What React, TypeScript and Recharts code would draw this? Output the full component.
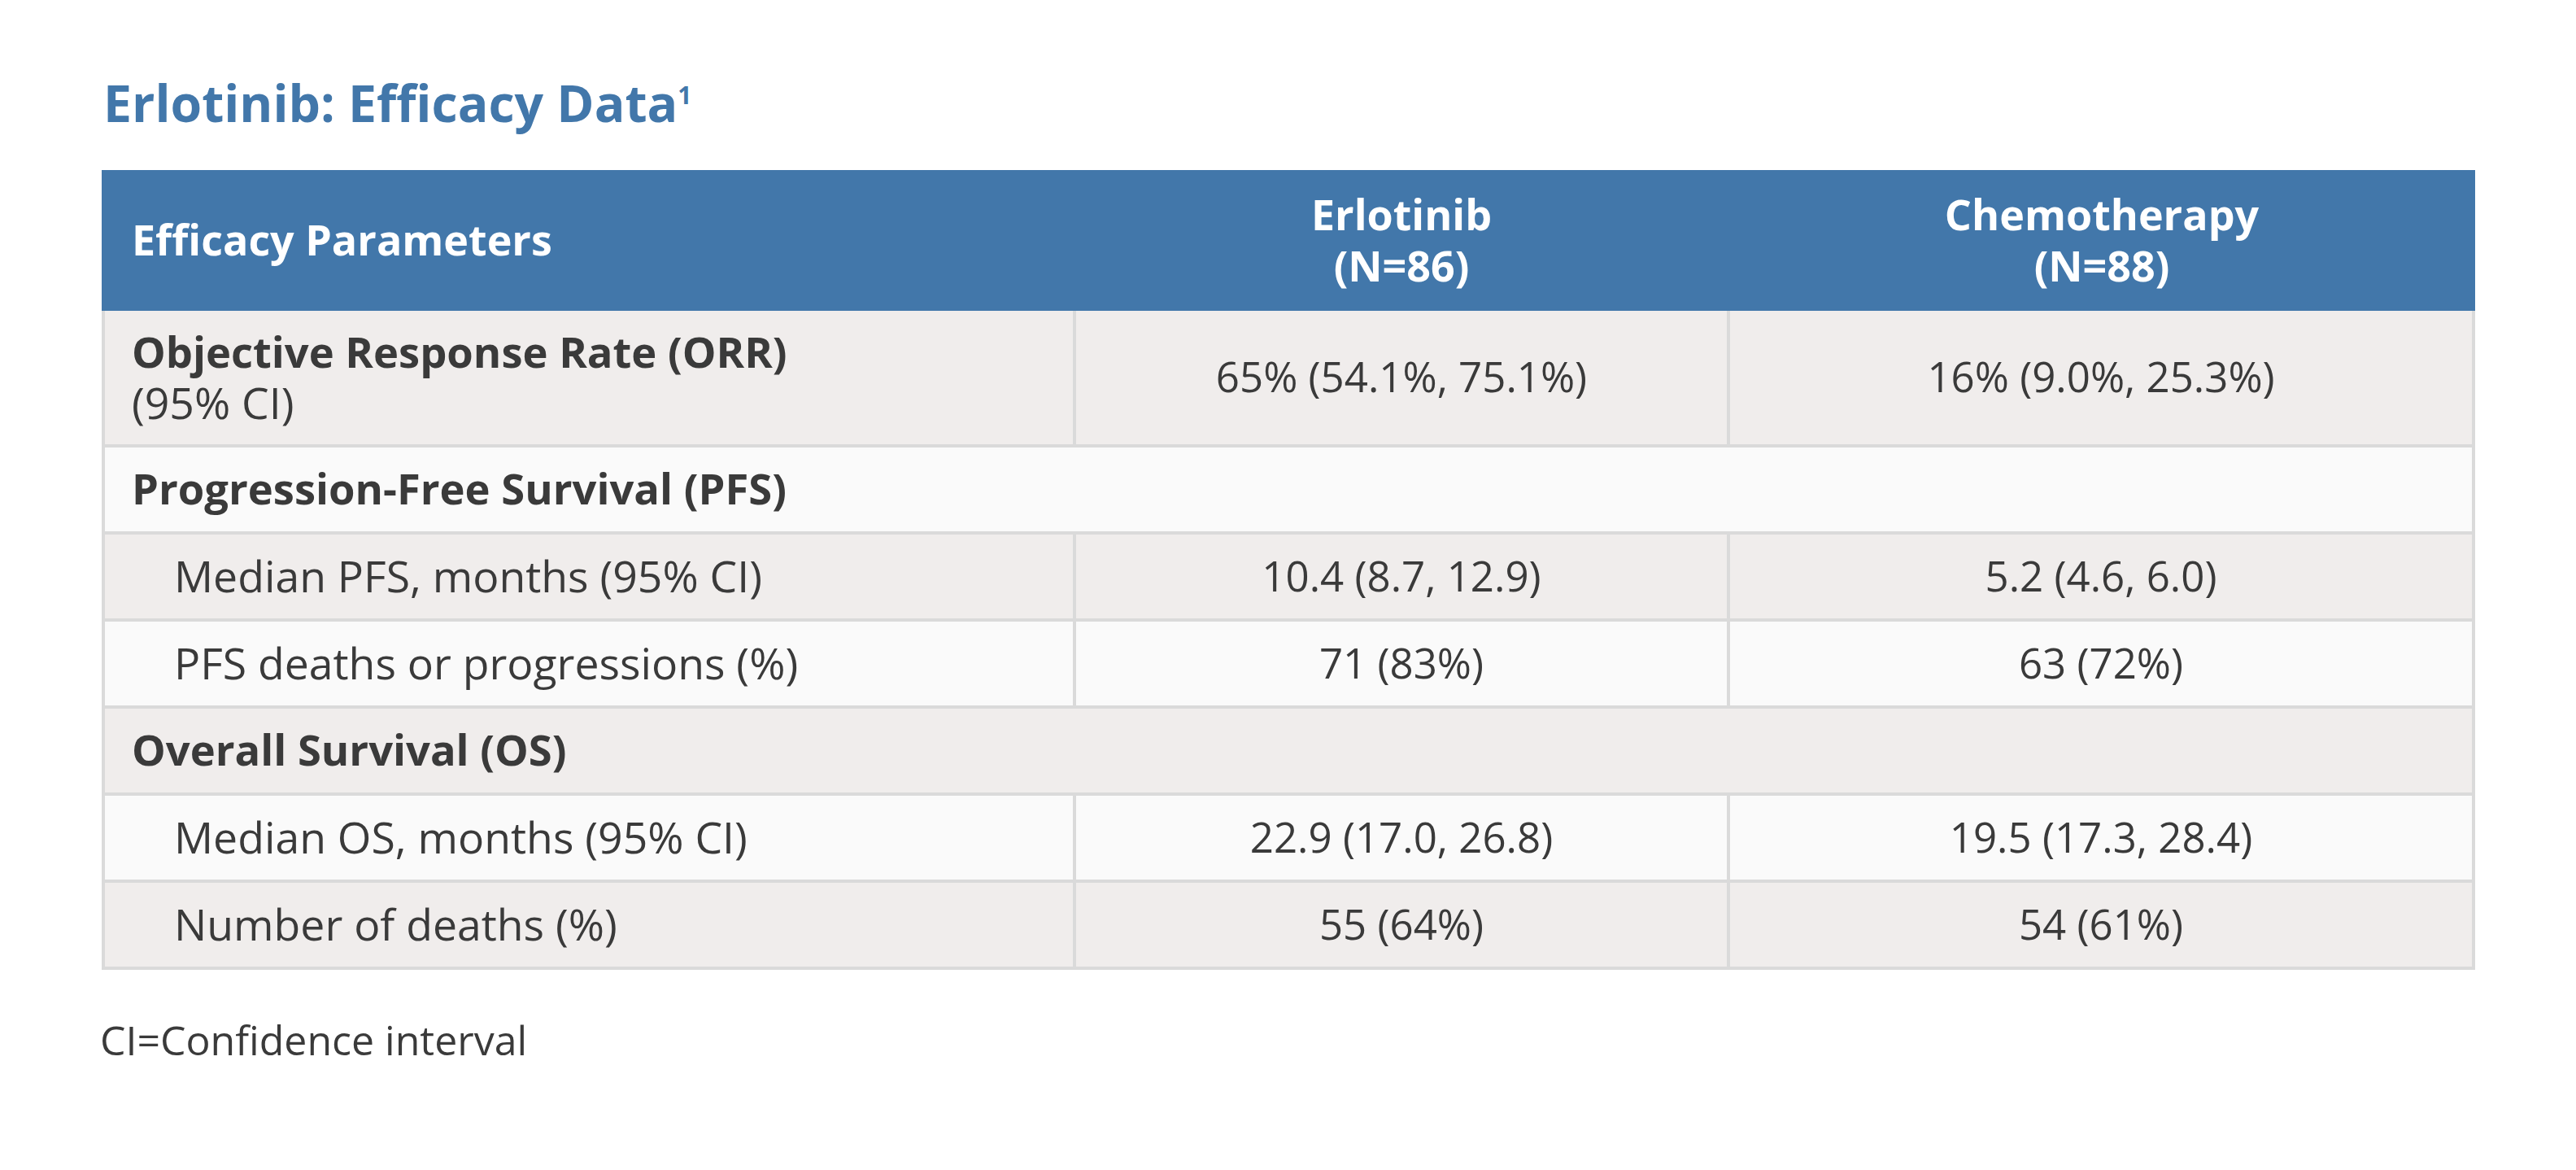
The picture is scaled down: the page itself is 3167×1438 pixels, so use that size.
import React from 'react';
import { ComposedChart, XAxis, YAxis, ReferenceArea } from 'recharts';

// ---------- content ----------
const titleText = 'Erlotinib: Efficacy Data';
const titleRef = '1';
const headerLabels = ['Efficacy Parameters', 'Erlotinib', 'Chemotherapy'];
const headerCounts = ['', '(N=86)', '(N=88)'];
const rowLabels = [
  'Objective Response Rate (ORR)',
  'Progression-Free Survival (PFS)',
  'Median PFS, months (95% CI)',
  'PFS deaths or progressions (%)',
  'Overall Survival (OS)',
  'Median OS, months (95% CI)',
  'Number of deaths (%)',
];
const rowNotes = ['(95% CI)', '', '', '', '', '', ''];
const rowKinds = ['main', 'section', 'sub', 'sub', 'section', 'sub', 'sub'];
const erlotinibValues = ['65% (54.1%, 75.1%)', '', '10.4 (8.7, 12.9)', '71 (83%)', '', '22.9 (17.0, 26.8)', '55 (64%)'];
const chemotherapyValues = ['16% (9.0%, 25.3%)', '', '5.2 (4.6, 6.0)', '63 (72%)', '', '19.5 (17.3, 28.4)', '54 (61%)'];
const footnoteText = 'CI=Confidence interval';

// ---------- layout / style ----------
const W = 3167;
const H = 1438;
const COL_EDGES = [125, 1321, 2125, 3043];
const ROW_EDGES = [209, 382, 548, 655, 762, 869, 976, 1083, 1190];
const BORDER = 4;
const FONT = '"Open Sans", "Noto Sans", sans-serif';
const BLUE = '#4277aa';
const TEXT = '#3a3a3a';
const GRAY_CELL = '#f0edec';
const LIGHT_CELL = '#fafafa';
const BORDER_COLOR = '#dadada';
const VALUE_SIZE = 51;
const LABEL_SIZE = 53.5;
const BOLD_SIZE = 52.5;
const HEADER_SIZE = 52;
const LINE_GAP = 63;

type Line = { text: string; weight: number; size?: number };

const CellText = (props: any) => {
  const { viewBox, lines, align, fontSize, color, padLeft } = props;
  if (!viewBox) return null;
  const x = viewBox.x;
  const y = Math.min(viewBox.y, viewBox.y + viewBox.height);
  const width = Math.abs(viewBox.width);
  const height = Math.abs(viewBox.height);
  const cy = y + height / 2;
  const n = lines.length;
  const base0 = cy - ((n - 1) * LINE_GAP) / 2 + 0.357 * fontSize;
  const tx = align === 'left' ? x + padLeft : x + width / 2;
  return (
    <text
      x={tx}
      y={base0}
      textAnchor={align === 'left' ? 'start' : 'middle'}
      fontFamily={FONT}
      fontSize={fontSize}
      fill={color}
    >
      {lines.map((l: Line, i: number) => (
        <tspan key={i} x={tx} y={base0 + i * LINE_GAP} fontWeight={l.weight} fontSize={l.size || fontSize}>
          {l.text}
        </tspan>
      ))}
    </text>
  );
};

const TitleText = (props: any) => {
  const { viewBox } = props;
  if (!viewBox) return null;
  const y = Math.min(viewBox.y, viewBox.y + viewBox.height);
  const height = Math.abs(viewBox.height);
  return (
    <text x={viewBox.x} y={y + height} fontFamily={FONT} fontSize={62.5} fontWeight={700} fill={BLUE}>
      {titleText}
      <tspan fontSize={30} dy={-22}>{titleRef}</tspan>
    </text>
  );
};

const FootText = (props: any) => {
  const { viewBox } = props;
  if (!viewBox) return null;
  const y = Math.min(viewBox.y, viewBox.y + viewBox.height);
  const height = Math.abs(viewBox.height);
  return (
    <text x={viewBox.x} y={y + height} fontFamily={FONT} fontSize={50} fill={TEXT}>
      {footnoteText}
    </text>
  );
};

const chartData = rowLabels.map((label, i) => ({
  label,
  erlotinib: erlotinibValues[i],
  chemotherapy: chemotherapyValues[i],
}));

export default function App() {
  const areas: React.ReactNode[] = [];
  const half = BORDER / 2;
  const tableLeft = COL_EDGES[0];
  const tableRight = COL_EDGES[COL_EDGES.length - 1];
  const bodyTop = ROW_EDGES[1];
  const bodyBottom = ROW_EDGES[ROW_EDGES.length - 1];

  // title
  areas.push(
    <ReferenceArea key="title" x1={127} x2={1400} y1={104} y2={150} fill="none" fillOpacity={0} stroke="none" ifOverflow="visible" label={<TitleText />} />
  );

  // header background
  areas.push(
    <ReferenceArea key="hdr" x1={tableLeft} x2={tableRight} y1={ROW_EDGES[0]} y2={ROW_EDGES[1]} fill={BLUE} fillOpacity={1} stroke="none" ifOverflow="visible" />
  );
  headerLabels.forEach((h, c) => {
    const lines: Line[] = [{ text: h, weight: 700 }];
    if (headerCounts[c]) lines.push({ text: headerCounts[c], weight: 700 });
    areas.push(
      <ReferenceArea
        key={'hc' + c}
        x1={COL_EDGES[c]}
        x2={COL_EDGES[c + 1]}
        y1={ROW_EDGES[0]}
        y2={ROW_EDGES[1]}
        fill="none"
        fillOpacity={0}
        stroke="none"
        ifOverflow="visible"
        label={<CellText lines={lines} align={c === 0 ? 'left' : 'center'} fontSize={HEADER_SIZE} color="#ffffff" padLeft={37} />}
      />
    );
  });

  // body border background
  areas.push(
    <ReferenceArea key="bodybg" x1={tableLeft} x2={tableRight} y1={bodyTop} y2={bodyBottom + half} fill={BORDER_COLOR} fillOpacity={1} stroke="none" ifOverflow="visible" />
  );

  rowLabels.forEach((label, r) => {
    const top = ROW_EDGES[r + 1];
    const bottom = ROW_EDGES[r + 2];
    const fill = r % 2 === 0 ? GRAY_CELL : LIGHT_CELL;
    const kind = rowKinds[r];
    const yTop = r === 0 ? top : top + half;
    const yBot = bottom - half;
    if (kind === 'section') {
      areas.push(
        <ReferenceArea
          key={'r' + r}
          x1={tableLeft + BORDER}
          x2={tableRight - BORDER}
          y1={yTop}
          y2={yBot}
          fill={fill}
          fillOpacity={1}
          stroke="none"
          ifOverflow="visible"
          label={<CellText lines={[{ text: label, weight: 700 }]} align="left" fontSize={BOLD_SIZE} color={TEXT} padLeft={37 - BORDER} />}
        />
      );
      return;
    }
    const labelLines: Line[] =
      kind === 'main'
        ? [{ text: label, weight: 700, size: BOLD_SIZE }, ...(rowNotes[r] ? [{ text: rowNotes[r], weight: 400, size: LABEL_SIZE }] : [])]
        : [{ text: label, weight: 400, size: LABEL_SIZE }];
    const cellsText = [labelLines, [{ text: erlotinibValues[r], weight: 400 }], [{ text: chemotherapyValues[r], weight: 400 }]];
    for (let c = 0; c < 3; c++) {
      const x1 = c === 0 ? tableLeft + BORDER : COL_EDGES[c] + half;
      const x2 = c === 2 ? tableRight - BORDER : COL_EDGES[c + 1] - half;
      const pad = kind === 'sub' ? 89 - BORDER : 37 - BORDER;
      areas.push(
        <ReferenceArea
          key={'r' + r + 'c' + c}
          x1={x1}
          x2={x2}
          y1={yTop}
          y2={yBot}
          fill={fill}
          fillOpacity={1}
          stroke="none"
          ifOverflow="visible"
          label={<CellText lines={cellsText[c]} align={c === 0 ? 'left' : 'center'} fontSize={c === 0 ? LABEL_SIZE : VALUE_SIZE} color={TEXT} padLeft={pad} />}
        />
      );
    }
  });

  // footnote
  areas.push(
    <ReferenceArea key="foot" x1={123} x2={1000} y1={1262} y2={1297} fill="none" fillOpacity={0} stroke="none" ifOverflow="visible" label={<FootText />} />
  );

  return (
    <div style={{ position: 'absolute', left: 0, top: 0, width: W, height: H, background: '#ffffff' }}>
      <ComposedChart width={W} height={H} data={chartData} margin={{ top: 0, right: 0, bottom: 0, left: 0 }}>
        <XAxis type="number" dataKey="label" domain={[0, W]} hide allowDataOverflow />
        <YAxis type="number" domain={[0, H]} reversed hide allowDataOverflow />
        {areas}
      </ComposedChart>
    </div>
  );
}
